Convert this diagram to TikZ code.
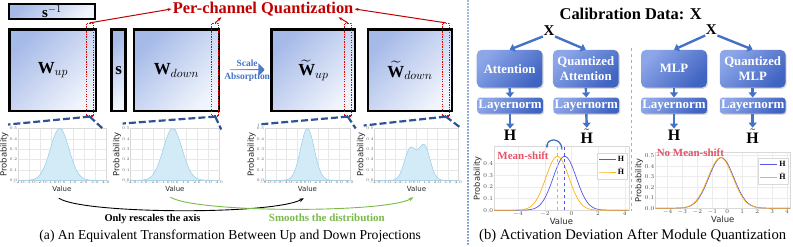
\documentclass[tikz,border=0pt]{standalone}
\usepackage{fix-cm}
\usepackage{fontspec}
\setmainfont{Liberation Serif}
\setsansfont{DejaVu Sans}
\usepackage{amsmath}
\usepackage{pgfplots}
\pgfplotsset{compat=1.18}
\usetikzlibrary{positioning, calc, arrows.meta, shapes.arrows, shadows}
\definecolor{Wtl}{RGB}{166,186,232}
\definecolor{Wbr}{RGB}{240,244,252}
\definecolor{Btl}{RGB}{140,166,232}
\definecolor{Bbr}{RGB}{64,100,194}
\definecolor{Bline}{RGB}{68,114,196}
\definecolor{Qred}{RGB}{192,0,0}
\definecolor{Dnavy}{RGB}{47,82,150}
\definecolor{Dens}{RGB}{210,235,247}
\definecolor{Densln}{RGB}{150,205,232}
\definecolor{Sgreen}{RGB}{122,186,72}
\definecolor{Mshift}{RGB}{232,82,104}
\definecolor{Cblue}{RGB}{85,85,230}
\definecolor{Corange}{RGB}{255,176,20}

\pgfplotsset{
  distax/.style={scale only axis, height=52pt, ymin=0, ymax=0.5,
    ytick={0,0.1,...,0.5}, grid=major, grid style={gray!18, line width=0.3pt},
    axis line style={gray!30, line width=0.3pt}, major tick length=0pt,
    tick label style={font=\fontsize{4}{4}\selectfont, text=gray!70!black, inner sep=0.8pt},
    xticklabel style={/pgf/number format/.cd, fixed, fixed zerofill, precision=1},
    yticklabel style={/pgf/number format/.cd, fixed, fixed zerofill, precision=1},
    xlabel={Value}, ylabel={Probability},
    xlabel style={font=\sffamily\fontsize{7}{7}\selectfont, inner sep=0.5pt, text=gray!30!black},
    ylabel style={font=\sffamily\fontsize{8.5}{8.5}\selectfont, inner sep=0.3pt, text=gray!30!black},
    every axis plot/.append style={draw=Densln, fill=Dens, line width=0.5pt, samples=120, mark=none}},
  devax/.style={scale only axis, ymin=0, grid=major, grid style={gray!15, line width=0.3pt},
    axis line style={gray!30, line width=0.3pt}, major tick length=0pt,
    tick label style={font=\fontsize{6}{6}\selectfont, text=gray!60!black, inner sep=1pt},
    yticklabel style={/pgf/number format/.cd, fixed, fixed zerofill, precision=1},
    xlabel={Value}, ylabel={Probability},
    xlabel style={font=\sffamily\fontsize{8.5}{8.5}\selectfont, inner sep=0.5pt, text=gray!30!black},
    ylabel style={font=\sffamily\fontsize{8.3}{8.3}\selectfont, inner sep=0.5pt, text=gray!30!black},
    legend style={font=\fontsize{8}{8}\selectfont, draw=gray!30, at={(0.99,0.9)},
                  anchor=north east, inner sep=1pt, row sep=1pt},
    legend cell align=left,
    every axis plot/.append style={line width=0.7pt, samples=120, mark=none}}
}

\begin{document}
\begin{tikzpicture}[
  px/.style={x=1pt, y=-1pt},
  wmat/.style={draw=black, line width=2.4pt, top color=Wtl, bottom color=Wbr,
               shading angle=45, inner sep=0pt, minimum height=82pt,
               font=\fontsize{17}{17}\selectfont},
  qcol/.style={draw=red!90!black, dash pattern=on 1.3pt off 1.2pt, line width=1.1pt,
               minimum width=7pt, minimum height=93pt, inner sep=0pt},
  qln/.style={draw=Qred, line width=1pt, {Stealth[length=4pt]}-},
  zoomln/.style={draw=Dnavy, line width=2.2pt, dash pattern=on 7pt off 3pt},
  sabel/.style={font=\bfseries\fontsize{9.5}{9.5}\selectfont, text=Bline, inner sep=0.5pt},
  blk/.style={rounded corners=5pt, top color=Btl, bottom color=Bbr, shading angle=45,
              text=white, font=\bfseries\fontsize{12.8}{15}\selectfont, align=center,
              minimum width=66pt, inner sep=1pt,
              drop shadow={shadow xshift=1.2pt, shadow yshift=-1.2pt, opacity=0.3}},
  lnblk/.style={blk, rounded corners=3pt, minimum height=16pt, font=\bfseries\fontsize{13}{13}\selectfont},
  barr/.style={-{Triangle[length=5pt, width=8pt]}, draw=Bline, line width=2.4pt},
  hout/.style={font=\fontsize{16}{16}\selectfont, inner sep=1.5pt},
  xin/.style={font=\fontsize{15}{15}\selectfont, inner sep=0.5pt},
  curv/.style={-{Stealth[length=5pt]}, line width=0.9pt},
  capt/.style={font=\fontsize{13.7}{13.7}\selectfont}
]
\begin{scope}[px]
\useasboundingbox (0,0) rectangle (793,247);

%% ─── (a) Matrices ───────────────────────────────────────────
\node[wmat, line width=1.6pt, minimum width=86pt, minimum height=15pt,
      font=\fontsize{15}{15}\selectfont]        (sinv) at (49,11.5) {$\mathbf{s}^{-1}$};
\node[wmat, minimum width=87pt]                 (wup)  at (50,70.5) {$\mathbf{W}_{up}$};
\node[wmat, minimum width=14pt]                 (svec) at (116,70.5) {$\mathbf{s}$};
\node[wmat, minimum width=85pt]                 (wdn)  at (174,70.5) {$\mathbf{W}_{down}$};
\node[wmat, minimum width=84pt]                 (wtup) at (311.5,70.5) {$\widetilde{\mathbf{W}}_{up}$};
\node[wmat, minimum width=84pt]                 (wtdn) at (408.5,70.5) {$\widetilde{\mathbf{W}}_{down}$};

\node[single arrow, single arrow head extend=2.5pt, minimum width=13pt,
      minimum height=35pt, inner sep=0pt, left color=Wtl!80!Bline,
      right color=Bline]                        (sa) at (245,70) {};
\node[sabel, above=1.5pt of sa]                 (sa1) {Scale};
\node[sabel, below=1.5pt of sa]                 (sa2) {Absorption};

%% ─── (a) Per-channel columns ────────────────────────────────
\node[qcol] (q1) at (87,70) {};
\node[qcol] (q2) at (213,70) {};
\node[qcol] (q3) at (346,70) {};
\node[qcol] (q4) at (444.5,70) {};
\node[font=\bfseries\fontsize{16.5}{16.5}\selectfont, text=Qred, inner sep=1pt]
      (pcq) at (261,9) {Per-channel Quantization};
\draw[qln] (pcq.west) -- (q1.north);
\draw[qln] ($(pcq.south west)+(50,0)$) -- (q2.north);
\draw[qln] ($(pcq.south east)+(-16,0)$) -- (q3.north);
\draw[qln] (pcq.east) -- (q4.north);
\end{scope}

%% ─── (a) Distributions ──────────────────────────────────────
\begin{axis}[distax, name=p1, at={(15pt,-181pt)}, anchor=south west, width=88pt,
             xmin=-4, xmax=4, xtick={-4,...,4}]
  \addplot[domain=-4:4] {0.5*exp(-((x+0.2)^2)/1.45)} \closedcycle;
\end{axis}
\begin{axis}[distax, name=p2, at={(128pt,-181pt)}, anchor=south west, width=89pt,
             xmin=-4, xmax=4, xtick={-4,...,4}]
  \addplot[domain=-4:4] {0.5*exp(-((x+0.2)^2)/1.45)} \closedcycle;
\end{axis}
\begin{axis}[distax, name=p3, at={(263pt,-181pt)}, anchor=south west, width=85pt,
             xmin=-8, xmax=8, xtick={-8,-6,...,8}]
  \addplot[domain=-8:8] {0.5*exp(-((x)^2)/3.4)} \closedcycle;
\end{axis}
\begin{axis}[distax, name=p4, at={(373pt,-181pt)}, anchor=south west, width=84pt,
             xmin=-4, xmax=4, xtick={-4,...,4}]
  \addplot[domain=-4:4] {0.3*exp(-((x+0.6)^2)/0.605)+0.33*exp(-((x-0.75)^2)/0.605)} \closedcycle;
\end{axis}

%% ─── (b) Deviation plots ────────────────────────────────────
\begin{axis}[devax, name=p5, at={(493pt,-211pt)}, anchor=south west, width=135pt, height=64pt,
             xmin=-5.8, xmax=4.3, ymax=0.545, xtick={-4,-2,...,4}, ytick={0,0.1,...,0.4}]
  \addplot[Cblue, domain=-5.8:4.3] {0.46*exp(-((x+0.5)^2)/1.5)};
  \addlegendentry{$\mathbf{H}$}
  \addplot[Corange, domain=-5.8:4.3] {0.46*exp(-((x+1.05)^2)/1.5)};
  \addlegendentry{$\tilde{\mathbf{H}}$}
  \draw[Cblue, dashed, line width=1pt] (axis cs:-0.5,0) -- (axis cs:-0.5,0.545);
  \draw[Corange, dashed, line width=1pt] (axis cs:-1.05,0) -- (axis cs:-1.05,0.545);
\end{axis}
\begin{axis}[devax, name=p6, at={(655pt,-209pt)}, anchor=south west, width=135pt, height=56pt,
             xmin=-4.8, xmax=4.2, ymax=0.53, xtick={-4,...,4}, ytick={0,0.1,...,0.5}]
  \addplot[Cblue, domain=-4.8:4.2] {0.48*exp(-((x+0.4)^2)/1.4)};
  \addlegendentry{$\mathbf{H}$}
  \addplot[Corange, domain=-4.8:4.2] {0.48*exp(-((x+0.45)^2)/1.4)};
  \addlegendentry{$\tilde{\mathbf{H}}$}
\end{axis}

\begin{scope}[px]
\coordinate (c1l) at (5,125);   \coordinate (c1r) at (101,130);
\coordinate (c2l) at (120,124); \coordinate (c2r) at (219,130);
\coordinate (c3l) at (256,125); \coordinate (c3r) at (354,129);
\coordinate (c4l) at (362,126); \coordinate (c4r) at (459,128);
\foreach \i in {1,...,4}{
  \draw[zoomln] (q\i.south) -- (c\i l);
  \draw[zoomln] (q\i.south) -- (c\i r);
}

%% ─── (a) Comparison arrows ──────────────────────────────────
\coordinate (v1) at (56,199);  \coordinate (v3) at (302,199);
\coordinate (v2) at (168,198); \coordinate (v4) at (412,198);
\draw[curv] (v1) .. controls (80,215) and (270,216) .. (v3);
\draw[curv, Sgreen] (v2) .. controls (195,214) and (385,214) .. (v4);
\node[font=\bfseries\fontsize{10.5}{10.5}\selectfont] (rsc) at (150,220) {Only rescales the axis};
\node[font=\bfseries\fontsize{11}{11}\selectfont, text=Sgreen] (smt) at (325,219) {Smooths the distribution};
\node[capt] (capa) at (228,237) {(a) An Equivalent Transformation Between Up and Down Projections};

%% ─── Divider ────────────────────────────────────────────────
\draw[Bline, line width=1.8pt, line cap=round, dash pattern=on 0.01pt off 3pt] (467,1) -- (467,246);
\draw[Bline!55, dashed, line width=0.8pt] (631,48) -- (631,212);

%% ─── (b) Calibration flow ───────────────────────────────────
\node[font=\bfseries\fontsize{16.5}{16.5}\selectfont] (calib) at (630,14) {Calibration Data: $\mathbf{X}$};
\node[xin] (x1) at (548,31) {$\mathbf{X}$};
\node[xin] (x2) at (711,30) {$\mathbf{X}$};

\node[blk, minimum height=38pt] (att)  at (508.5,69) {Attention};
\node[blk, minimum height=38pt] (qatt) at (585,69)   {Quantized\\Attention};
\node[lnblk]                    (ln1)  at (509,106)  {Layernorm};
\node[lnblk]                    (ln2)  at (585.5,106) {Layernorm};
\node[hout]                     (h1)   at (509,136)  {$\mathbf{H}$};
\node[hout]                     (h2)   at (586,137)  {$\tilde{\mathbf{H}}$};

\node[blk, minimum height=38pt] (mlp)  at (673.5,69) {MLP};
\node[blk, minimum height=38pt] (qmlp) at (752.5,69) {Quantized\\MLP};
\node[lnblk]                    (ln3)  at (673.5,106) {Layernorm};
\node[lnblk]                    (ln4)  at (752.5,106) {Layernorm};
\node[hout]                     (h3)   at (673.5,136) {$\mathbf{H}$};
\node[hout]                     (h4)   at (752.5,137) {$\tilde{\mathbf{H}}$};

\draw[barr] (x1.south west) -- (att.north);
\draw[barr] (x1.south east) -- (qatt.north);
\draw[barr] (x2.south west) -- (mlp.north);
\draw[barr] (x2.south east) -- (qmlp.north);
\foreach \a/\b/\c in {att/ln1/h1, qatt/ln2/h2, mlp/ln3/h3, qmlp/ln4/h4}{
  \draw[barr] (\a.south) -- (\b.north);
  \draw[barr] (\b.south) -- (\c.north);
}

\coordinate (m1) at (561,150); \coordinate (m2) at (546,149);
\draw[-{Stealth[length=4pt]}, Bline, line width=1.3pt] (m1) .. controls (561,138) and (546,138) .. (m2);
\node[font=\bfseries\fontsize{11}{11}\selectfont, text=Mshift] (ms)  at (522,156) {Mean-shift};
\node[font=\bfseries\fontsize{11}{11}\selectfont, text=Mshift] (nms) at (690,153) {No Mean-shift};
\node[capt, font=\fontsize{14.7}{14.7}\selectfont] (capb) at (632,237) {(b) Activation Deviation After Module Quantization};
\end{scope}

\end{tikzpicture}
\end{document}
